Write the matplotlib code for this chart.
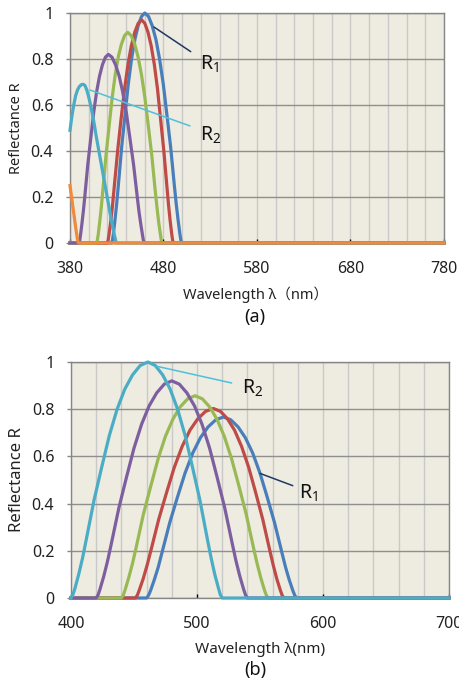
import matplotlib
matplotlib.use("Agg")
import matplotlib.pyplot as plt

plt.rcParams['font.family'] = ['Noto Sans', 'Noto Sans CJK SC', 'DejaVu Sans']
plt.rcParams['mathtext.fontset'] = 'custom'
plt.rcParams['mathtext.rm'] = 'Noto Sans'

# ---------------- data: panel (a) ----------------
a_blue_x = [380, 424.6, 425.5, 426.4, 428.1, 429.9, 431.7, 435.2, 438.8, 442.3, 445.8, 449.4, 452.9, 456.5, 460,
            464.0, 467.9, 471.9, 475.8, 479.8, 483.7, 487.7, 491.6, 493.6, 495.6, 497.5, 498.5, 499.5, 780]
a_blue_y = [0, 0, 0.014, 0.04, 0.10, 0.17, 0.25, 0.415, 0.555, 0.69, 0.80, 0.885, 0.945, 0.985, 1.0,
            0.985, 0.945, 0.885, 0.80, 0.69, 0.555, 0.415, 0.25, 0.17, 0.10, 0.04, 0.014, 0, 0]
a_red_x = [380, 420.0, 420.9, 421.8, 423.7, 425.5, 427.3, 431.0, 434.6, 438.3, 442.0, 445.6, 449.3, 452.9, 456.6,
           460.0, 463.4, 466.8, 470.2, 473.6, 476.9, 480.3, 483.7, 485.4, 487.1, 488.8, 489.7, 490.5, 780]
a_red_y = [0, 0, 0.014, 0.039, 0.097, 0.165, 0.243, 0.403, 0.538, 0.669, 0.776, 0.858, 0.917, 0.955, 0.97,
           0.955, 0.917, 0.858, 0.776, 0.669, 0.538, 0.403, 0.243, 0.165, 0.097, 0.039, 0.014, 0, 0]
a_green_x = [380, 408.5, 409.3, 410.2, 411.8, 413.5, 415.1, 418.5, 421.8, 425.1, 428.4, 431.7, 435.1, 438.4, 441.7,
             445.4, 449.1, 452.7, 456.4, 460.1, 463.8, 467.5, 471.1, 473.0, 474.8, 476.7, 477.6, 478.5, 780]
a_green_y = [0, 0, 0.013, 0.037, 0.092, 0.156, 0.229, 0.380, 0.508, 0.632, 0.733, 0.811, 0.866, 0.902, 0.916,
             0.902, 0.866, 0.811, 0.733, 0.632, 0.508, 0.380, 0.229, 0.156, 0.092, 0.037, 0.013, 0, 0]
a_purple_x = [380, 389.6, 390.4, 391.2, 392.7, 394.3, 395.9, 399.0, 402.2, 405.3, 408.4, 411.6, 414.7, 417.9, 421,
              424.9, 428.7, 432.6, 436.4, 440.3, 444.1, 448.0, 451.8, 453.7, 455.7, 457.6, 458.5, 459.5, 780]
a_purple_y = [0, 0, 0.011, 0.033, 0.082, 0.139, 0.205, 0.340, 0.455, 0.566, 0.656, 0.726, 0.775, 0.808, 0.82,
              0.808, 0.775, 0.726, 0.656, 0.566, 0.455, 0.340, 0.205, 0.139, 0.082, 0.033, 0.011, 0, 0]
a_cyan_x = [380, 382, 384, 386, 388, 390, 392, 394, 396, 398, 400, 402, 404, 406, 408, 410, 412, 414,
            416, 418, 420, 422, 424, 426, 428, 429.5, 780]
a_cyan_y = [0.49, 0.55, 0.60, 0.64, 0.665, 0.68, 0.688, 0.69, 0.685, 0.665, 0.635, 0.60, 0.56, 0.515,
            0.465, 0.42, 0.375, 0.33, 0.285, 0.24, 0.195, 0.15, 0.105, 0.063, 0.025, 0, 0]
a_orange_x = [380, 382, 384, 386, 388, 389, 780]
a_orange_y = [0.25, 0.19, 0.13, 0.07, 0.015, 0, 0]

# ---------------- data: panel (b) ----------------
b_blue_x = [400, 460.0, 461.5, 463.1, 466.1, 469.2, 472.2, 478.3, 484.4, 490.5, 496.6, 502.7, 508.8, 514.9, 521,
            526.8, 532.6, 538.4, 544.2, 550.0, 555.8, 561.6, 567.4, 570.3, 573.2, 576.1, 577.6, 579.0, 700]
b_blue_y = [0, 0, 0.011, 0.031, 0.077, 0.130, 0.192, 0.318, 0.426, 0.529, 0.614, 0.679, 0.725, 0.755, 0.767,
            0.755, 0.725, 0.679, 0.614, 0.529, 0.426, 0.318, 0.192, 0.130, 0.077, 0.031, 0.011, 0, 0]
b_red_x = [400, 451.0, 452.6, 454.1, 457.2, 460.3, 463.4, 469.6, 475.8, 482.0, 488.2, 494.4, 500.6, 506.8, 513,
           518.6, 524.2, 529.8, 535.4, 541.0, 546.6, 552.2, 557.8, 560.6, 563.4, 566.2, 567.6, 569.0, 700]
b_red_y = [0, 0, 0.011, 0.032, 0.080, 0.137, 0.201, 0.333, 0.446, 0.554, 0.642, 0.711, 0.759, 0.791, 0.803,
           0.791, 0.759, 0.711, 0.642, 0.554, 0.446, 0.333, 0.201, 0.137, 0.080, 0.032, 0.011, 0, 0]
b_green_x = [400, 440.0, 441.5, 442.9, 445.8, 448.8, 451.7, 457.5, 463.4, 469.2, 475.0, 480.9, 486.7, 492.6, 498.4,
             504.2, 510.0, 515.8, 521.6, 527.4, 533.2, 539.0, 544.8, 547.7, 550.6, 553.5, 555.0, 556.4, 700]
b_green_y = [0, 0, 0.012, 0.034, 0.086, 0.146, 0.214, 0.356, 0.476, 0.591, 0.686, 0.758, 0.810, 0.844, 0.857,
             0.844, 0.810, 0.758, 0.686, 0.591, 0.476, 0.356, 0.214, 0.146, 0.086, 0.034, 0.012, 0, 0]
b_purple_x = [400, 420, 421.5, 423, 426, 429, 432, 438, 444, 450, 456, 462, 468, 474, 480,
              486, 492, 498, 504, 510, 516, 522, 528, 531, 534, 537, 538.5, 540, 700]
b_purple_y = [0, 0, 0.013, 0.037, 0.092, 0.156, 0.230, 0.382, 0.511, 0.635, 0.736, 0.814, 0.869, 0.906, 0.92,
              0.906, 0.869, 0.814, 0.736, 0.635, 0.511, 0.382, 0.230, 0.156, 0.092, 0.037, 0.013, 0, 0]
b_cyan_x = [400.0, 401.5, 403.1, 406.1, 409.2, 412.2, 418.3, 424.4, 430.5, 436.6, 442.7, 448.8, 454.9, 461,
            466.9, 472.8, 478.7, 484.6, 490.5, 496.4, 502.3, 508.2, 511.2, 514.1, 517.1, 518.5, 520.0, 700]
b_cyan_y = [0, 0.014, 0.04, 0.10, 0.17, 0.25, 0.415, 0.555, 0.69, 0.80, 0.885, 0.945, 0.985, 1.0,
            0.985, 0.945, 0.885, 0.80, 0.69, 0.555, 0.415, 0.25, 0.17, 0.10, 0.04, 0.014, 0, 0]

y_ticks = [0, 0.2, 0.4, 0.6, 0.8, 1.0]
y_tick_labels = ["0", "0.2", "0.4", "0.6", "0.8", "1"]
a_xticks = [380, 480, 580, 680, 780]
a_xminor = list(range(380, 781, 20))
b_xticks = [400, 500, 600, 700]
b_xminor = list(range(400, 701, 20))

C_BLUE, C_RED, C_GREEN = '#4A7EBB', '#BE4B48', '#98B954'
C_PURPLE, C_CYAN, C_ORANGE = '#7D5FA0', '#4BACC6', '#F08A3C'

fig = plt.figure(figsize=(4.6, 6.82), dpi=100)
fig.patch.set_facecolor('white')
ax1 = fig.add_axes([70/460, 1-243/682, 374/460, 230/682])
ax2 = fig.add_axes([71/460, 1-598/682, 378/460, 236/682])


def style(ax, xlim, major, minor, ylabel_size):
    ax.set_facecolor('#EEEBE0')
    ax.set_xlim(*xlim)
    ax.set_ylim(0, 1)
    ax.set_xticks(major)
    ax.set_xticks(minor, minor=True)
    ax.set_yticks(y_ticks)
    ax.set_yticklabels(y_tick_labels)
    ax.set_axisbelow(True)
    ax.grid(axis='x', which='both', color='#C9C9C9', lw=1.0)
    ax.grid(axis='y', which='major', color='#8F8F8F', lw=1.0)
    for s in ax.spines.values():
        s.set_color('#868686')
        s.set_linewidth(1.0)
    ax.tick_params(axis='x', which='major', direction='in', length=3, width=1,
                   color='black', pad=13, labelsize=11.5, labelcolor='#222222')
    ax.tick_params(axis='x', which='minor', length=0)
    ax.tick_params(axis='y', direction='out', length=3, width=1, color='#868686',
                   pad=9, labelsize=11.5, labelcolor='#222222')
    ax.set_ylabel('Reflectance R', fontsize=ylabel_size, color='#222222', va='center')


lw = 2.3
style(ax1, (380, 780), a_xticks, a_xminor, 10.5)
for xs, ys, c in [(a_blue_x, a_blue_y, C_BLUE), (a_red_x, a_red_y, C_RED),
                  (a_green_x, a_green_y, C_GREEN), (a_purple_x, a_purple_y, C_PURPLE),
                  (a_cyan_x, a_cyan_y, C_CYAN), (a_orange_x, a_orange_y, C_ORANGE)]:
    ax1.plot(xs, ys, color=c, lw=lw, clip_on=False, solid_joinstyle='round', zorder=3)
ax1.set_xlabel('Wavelength λ（nm）', fontsize=10.5, color='#222222', va='center')
ax1.xaxis.set_label_coords(0.495, -0.226)
ax1.yaxis.set_label_coords(-0.144, 0.5)

ax1.annotate('', xy=(469.8, 0.939), xytext=(509.1, 0.832),
             arrowprops=dict(arrowstyle='-', color='#1F3864', lw=1.1, shrinkA=0, shrinkB=0))
ax1.annotate('', xy=(401.4, 0.665), xytext=(508.3, 0.509),
             arrowprops=dict(arrowstyle='-', color='#4FC0DC', lw=1.1, shrinkA=0, shrinkB=0))
ax1.text(519, 0.755, r'$\mathregular{R_1}$', fontsize=14, ha='left', va='baseline', color='#111111')
ax1.text(519, 0.4435, r'$\mathregular{R_2}$', fontsize=14, ha='left', va='baseline', color='#111111')

style(ax2, (400, 700), b_xticks, b_xminor, 12)
for xs, ys, c in [(b_blue_x, b_blue_y, C_BLUE), (b_red_x, b_red_y, C_RED),
                  (b_green_x, b_green_y, C_GREEN), (b_purple_x, b_purple_y, C_PURPLE),
                  (b_cyan_x, b_cyan_y, C_CYAN)]:
    ax2.plot(xs, ys, color=c, lw=lw, clip_on=False, solid_joinstyle='round', zorder=3)
ax2.set_xlabel('Wavelength λ(nm)', fontsize=11, color='#222222', va='center')
ax2.xaxis.set_label_coords(0.5, -0.22)
ax2.yaxis.set_label_coords(-0.144, 0.5)

ax2.annotate('', xy=(468, 0.982), xytext=(527.5, 0.911),
             arrowprops=dict(arrowstyle='-', color='#4FC0DC', lw=1.1, shrinkA=0, shrinkB=0))
ax2.annotate('', xy=(550, 0.528), xytext=(576, 0.476),
             arrowprops=dict(arrowstyle='-', color='#1F3864', lw=1.1, shrinkA=0, shrinkB=0))
ax2.text(535.5, 0.864, r'$\mathregular{R_2}$', fontsize=14, ha='left', va='baseline', color='#111111')
ax2.text(581, 0.4226, r'$\mathregular{R_1}$', fontsize=14, ha='left', va='baseline', color='#111111')

fig.text(255/460, 1-317/682, '(a)', fontsize=13, ha='center', va='center', color='#111111')
fig.text(255/460, 1-670/682, '(b)', fontsize=13, ha='center', va='center', color='#111111')

fig.savefig('out.png', dpi=100, facecolor='white')
